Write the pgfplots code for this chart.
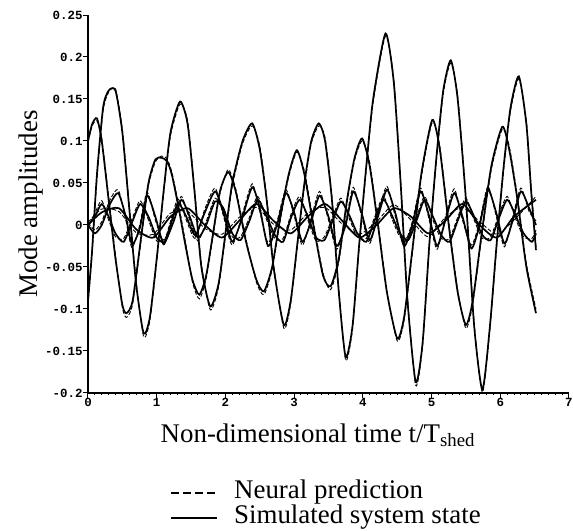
\documentclass[border=0pt]{standalone}
\usepackage{fontspec}
\setmainfont{Liberation Serif}
\newfontfamily\tickfont{Liberation Mono}
\usepackage{pgfplots}
\usepackage{pgfplotstable}
\pgfplotsset{compat=1.18}

% mode amplitudes: t, simulated (s), neural prediction (n)
\pgfplotstableread{
t s n
0.00 0.100 0.098
0.06 0.120 0.118
0.13 0.127 0.124
0.20 0.100 0.103
0.30 0.030 0.034
0.40 -0.040 -0.036
0.50 -0.095 -0.098
0.56 -0.105 -0.110
0.65 -0.090 -0.094
0.78 -0.010 -0.014
0.88 0.050 0.047
0.98 0.078 0.075
1.07 0.080 0.082
1.15 0.076 0.079
1.22 0.060 0.063
1.32 0.020 0.024
1.42 -0.025 -0.021
1.52 -0.065 -0.068
1.62 -0.083 -0.088
1.72 -0.060 -0.064
1.82 -0.010 -0.013
1.92 0.040 0.037
2.04 0.063 0.066
2.15 0.040 0.043
2.30 -0.020 -0.017
2.45 -0.065 -0.068
2.56 -0.079 -0.083
2.68 -0.050 -0.053
2.80 0.010 0.006
2.92 0.060 0.057
3.04 0.089 0.087
3.15 0.060 0.064
3.28 0.000 0.004
3.42 -0.060 -0.057
3.53 -0.073 -0.077
3.65 -0.040 -0.044
3.77 0.030 0.026
3.88 0.080 0.077
3.99 0.103 0.100
4.10 0.070 0.074
4.22 0.000 0.004
4.35 -0.080 -0.077
4.50 -0.135 -0.138
4.60 -0.110 -0.114
4.72 -0.030 -0.034
4.85 0.060 0.056
5.01 0.125 0.122
5.12 0.090 0.094
5.25 0.000 0.004
5.38 -0.080 -0.077
5.50 -0.119 -0.123
5.60 -0.090 -0.094
5.73 -0.010 -0.014
5.87 0.070 0.066
6.03 0.117 0.114
6.13 0.090 0.094
6.25 0.030 0.034
6.38 -0.050 -0.046
6.52 -0.105 -0.100
}\modeA

\pgfplotstableread{
t s n
0.00 -0.090 -0.094
0.06 -0.030 -0.034
0.13 0.060 0.055
0.22 0.140 0.136
0.30 0.160 0.158
0.40 0.160 0.162
0.50 0.110 0.114
0.60 0.020 0.024
0.70 -0.070 -0.066
0.81 -0.129 -0.133
0.90 -0.110 -0.114
1.00 -0.040 -0.044
1.10 0.040 0.036
1.20 0.110 0.106
1.34 0.147 0.144
1.45 0.120 0.124
1.55 0.040 0.044
1.65 -0.050 -0.046
1.78 -0.097 -0.101
1.90 -0.070 -0.074
2.00 -0.010 -0.014
2.10 0.050 0.046
2.25 0.100 0.097
2.39 0.121 0.118
2.50 0.090 0.094
2.60 0.030 0.034
2.70 -0.050 -0.046
2.85 -0.119 -0.123
2.95 -0.090 -0.094
3.05 -0.020 -0.024
3.15 0.050 0.046
3.25 0.100 0.097
3.36 0.121 0.118
3.45 0.100 0.104
3.55 0.030 0.034
3.65 -0.080 -0.076
3.75 -0.157 -0.161
3.85 -0.120 -0.124
3.95 -0.020 -0.024
4.05 0.070 0.066
4.15 0.150 0.146
4.33 0.228 0.225
4.45 0.170 0.174
4.55 0.050 0.054
4.65 -0.090 -0.086
4.77 -0.187 -0.191
4.87 -0.140 -0.144
4.97 -0.020 -0.024
5.07 0.080 0.076
5.17 0.160 0.156
5.28 0.196 0.193
5.38 0.150 0.154
5.50 0.030 0.034
5.62 -0.120 -0.116
5.74 -0.196 -0.199
5.85 -0.120 -0.124
5.95 -0.020 -0.024
6.05 0.070 0.066
6.15 0.140 0.136
6.27 0.177 0.174
6.38 0.120 0.124
6.45 0.040 0.044
6.52 -0.030 -0.026
}\modeB

\pgfplotstableread{
t s n
0.00 0.000 0.003
0.10 -0.010 -0.006
0.20 0.000 0.004
0.32 0.025 0.030
0.44 0.038 0.042
0.55 0.010 0.006
0.64 -0.023 -0.027
0.75 -0.005 -0.001
0.86 0.035 0.039
0.98 0.010 0.006
1.10 -0.023 -0.019
1.20 0.000 0.004
1.31 0.026 0.031
1.43 0.010 0.006
1.56 -0.012 -0.016
1.70 0.015 0.019
1.85 0.040 0.044
1.97 0.015 0.011
2.10 -0.020 -0.024
2.25 0.010 0.014
2.39 0.045 0.049
2.50 0.020 0.016
2.62 -0.025 -0.021
2.75 0.000 0.004
2.88 0.038 0.042
3.00 0.015 0.011
3.12 -0.020 -0.024
3.25 0.005 0.009
3.37 0.035 0.040
3.50 0.010 0.006
3.62 -0.025 -0.029
3.75 0.000 0.004
3.86 0.040 0.045
3.98 0.015 0.011
4.10 -0.018 -0.022
4.22 0.010 0.014
4.35 0.042 0.046
4.47 0.015 0.011
4.60 -0.025 -0.021
4.72 0.000 0.004
4.84 0.040 0.044
4.96 0.012 0.008
5.08 -0.025 -0.029
5.20 0.005 0.009
5.33 0.038 0.043
5.45 0.010 0.006
5.58 -0.028 -0.024
5.70 0.000 0.004
5.82 0.042 0.046
5.94 0.015 0.011
6.06 -0.022 -0.026
6.18 0.005 0.009
6.30 0.040 0.044
6.42 0.020 0.016
6.52 0.000 0.005
}\modeC

\pgfplotstableread{
t s n
0.00 0.000 -0.003
0.10 0.010 0.014
0.20 0.025 0.029
0.30 0.010 0.006
0.40 -0.010 -0.014
0.52 -0.020 -0.016
0.65 0.005 0.009
0.76 0.025 0.029
0.88 0.010 0.006
1.00 -0.015 -0.019
1.12 -0.020 -0.016
1.25 0.005 0.009
1.36 0.030 0.034
1.48 0.010 0.006
1.60 -0.015 -0.019
1.72 0.000 0.004
1.85 0.028 0.032
1.97 0.020 0.016
2.10 -0.010 -0.014
2.22 -0.018 -0.014
2.35 0.005 0.009
2.47 0.030 0.034
2.60 0.010 0.006
2.72 -0.012 -0.016
2.84 -0.020 -0.016
2.96 0.010 0.014
3.08 0.030 0.034
3.20 0.010 0.006
3.32 -0.015 -0.019
3.44 -0.018 -0.014
3.56 0.005 0.009
3.68 0.028 0.032
3.80 0.012 0.008
3.92 -0.010 -0.014
4.05 -0.020 -0.016
4.17 0.005 0.009
4.30 0.030 0.034
4.42 0.012 0.008
4.54 -0.010 -0.014
4.66 -0.018 -0.014
4.78 0.005 0.009
4.90 0.030 0.034
5.02 0.010 0.006
5.14 -0.012 -0.016
5.26 -0.020 -0.016
5.38 0.005 0.009
5.50 0.028 0.032
5.62 0.010 0.006
5.74 -0.012 -0.016
5.86 -0.018 -0.014
5.98 0.008 0.012
6.10 0.030 0.034
6.22 0.012 0.008
6.34 -0.010 -0.014
6.46 -0.020 -0.016
6.52 -0.010 -0.006
}\modeD

\pgfplotstableread{
t s n
0.00 0.000 0.003
0.20 0.015 0.019
0.45 0.020 0.016
0.70 -0.005 -0.009
0.95 -0.015 -0.011
1.20 0.010 0.014
1.45 0.020 0.016
1.70 0.000 -0.004
1.95 -0.015 -0.011
2.20 0.005 0.009
2.45 0.025 0.021
2.70 0.005 0.001
2.95 -0.010 -0.006
3.20 0.010 0.014
3.45 0.025 0.021
3.70 0.005 0.001
3.95 -0.015 -0.011
4.20 0.000 0.004
4.45 0.020 0.024
4.70 0.010 0.006
4.95 -0.010 -0.014
5.20 0.005 0.009
5.45 0.025 0.021
5.70 0.000 0.004
5.95 -0.015 -0.011
6.20 0.010 0.006
6.52 0.030 0.034
}\modeE

\begin{document}
\begin{tikzpicture}
\begin{axis}[
  scale only axis,
  width=481bp, height=378bp,
  xmin=0, xmax=7, ymin=-0.2, ymax=0.25,
  axis x line=bottom, axis y line=left,
  axis line style={-, line width=1.2bp},
  xtick={0,1,2,3,4,5,6,7},
  xticklabels={0,1,2,3,4,5,6,7},
  ytick={-0.2,-0.15,-0.1,-0.05,0,0.05,0.1,0.15,0.2,0.25},
  yticklabels={-0.2,-0.15,-0.1,-0.05,0,0.05,0.1,0.15,0.2,0.25},
  tick align=outside,
  major tick length=5bp,
  minor x tick num=9,
  minor tick length=2bp,
  tick style={black, line width=1bp},
  ticklabel style={font=\tickfont\bfseries\fontsize{12.5}{13}\selectfont, inner sep=0.3bp},
  xlabel={Non-dimensional time t/T\textsubscript{shed}},
  ylabel={Mode amplitudes},
  label style={font=\fontsize{27}{30}\selectfont},
  xlabel style={at={(axis description cs:0.478,-0.13)}, anchor=base},
  ylabel style={at={(axis description cs:-0.104,0.5)}, anchor=base},
  legend style={draw=none, fill=none, at={(0.17,-0.23)}, anchor=north west,
    inner sep=0pt, cells={anchor=west}, column sep=16bp,
    font=\fontsize{27}{25}\selectfont,
    nodes={inner sep=0pt, text height=18bp, text depth=7bp}},
  legend image code/.code={\draw[#1] (0bp,0bp) -- (46bp,0bp);},
  simu/.style={black, line width=1.7bp, smooth, tension=0.4, forget plot},
  neur/.style={black, line width=0.9bp, dash pattern=on 4bp off 2bp, smooth, tension=0.4, forget plot},
]
\addplot[neur] table[x=t, y=n] {\modeE};
\addplot[simu] table[x=t, y=s] {\modeE};
\addplot[neur] table[x=t, y=n] {\modeD};
\addplot[simu] table[x=t, y=s] {\modeD};
\addplot[neur] table[x=t, y=n] {\modeC};
\addplot[simu] table[x=t, y=s] {\modeC};
\addplot[neur] table[x=t, y=n] {\modeA};
\addplot[simu] table[x=t, y=s] {\modeA};
\addplot[neur] table[x=t, y=n] {\modeB};
\addplot[simu] table[x=t, y=s] {\modeB};
\addlegendimage{black, line width=2bp, dash pattern=on 8bp off 4bp}
\addlegendentry{Neural prediction}
\addlegendimage{black, line width=2.2bp}
\addlegendentry{Simulated system state}
\end{axis}
\path (-88bp,-139bp) rectangle (485bp,393bp);
\end{tikzpicture}
\end{document}
